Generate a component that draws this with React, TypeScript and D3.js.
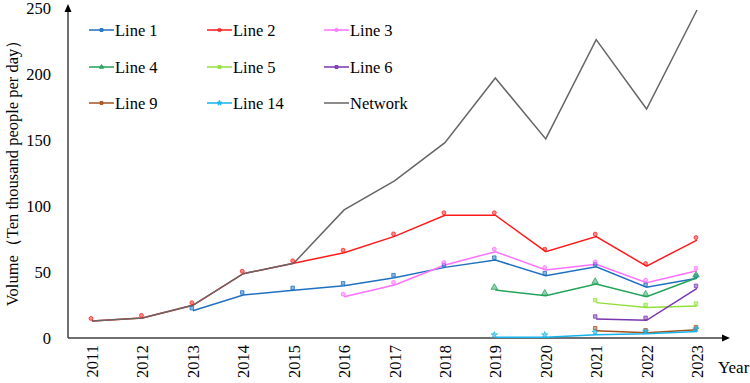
import React, { useEffect, useRef } from 'react';
import * as d3 from 'd3';

// years on the x axis
const years = [2011, 2012, 2013, 2014, 2015, 2016, 2017, 2018, 2019, 2020, 2021, 2022, 2023];
const yTicks = [0, 50, 100, 150, 200, 250];

// values in ten thousand people per day (null = line not open)
const line1 = [null, null, 20.7, 32.6, 36.1, 39.6, 45.7, 53.5, 59, 47.2, 54, 38.4, 45.2];
const line2 = [12.9, 15.2, 24.8, 48.7, 56.6, 64.6, 77, 93, 93, 65.4, 76.8, 54.5, 74.2];
const line3 = [null, null, null, null, null, 31.3, 40.2, 55.3, 65.4, 51.5, 55.8, 41.9, 51];
const line4 = [null, null, null, null, null, null, null, null, 36.4, 32, 40.9, 31.3, 45.7];
const line5 = [null, null, null, null, null, null, null, null, null, null, 26.8, 23.2, 24.2];
const line6 = [null, null, null, null, null, null, null, null, null, null, 14.4, 13.4, 37.6];
const line9 = [null, null, null, null, null, null, null, null, null, null, 5.5, 4, 6.3];
const line14 = [null, null, null, null, null, null, null, null, 0.5, 0.5, 2.5, 3.2, 5];
const network = [12.9, 15.2, 24.8, 48.7, 56.6, 97, 119, 148, 197, 150.8, 226, 173.5, 248.5];

const series = [
  { name: 'Line 1', values: line1, color: '#1f70c1', marker: 'square' },
  { name: 'Line 2', values: line2, color: '#ff1a1a', marker: 'circle' },
  { name: 'Line 3', values: line3, color: '#ff70ff', marker: 'circle' },
  { name: 'Line 4', values: line4, color: '#22a35a', marker: 'triangle' },
  { name: 'Line 5', values: line5, color: '#92e03a', marker: 'square' },
  { name: 'Line 6', values: line6, color: '#7a35b0', marker: 'square' },
  { name: 'Line 9', values: line9, color: '#a4521f', marker: 'square' },
  { name: 'Line 14', values: line14, color: '#14b4ee', marker: 'star' },
  { name: 'Network', values: network, color: '#666666', marker: null },
];

const markerSymbol = (m: string) => {
  if (m === 'square') return d3.symbolSquare;
  if (m === 'circle') return d3.symbolCircle;
  if (m === 'triangle') return d3.symbolTriangle;
  return d3.symbolStar;
};

const App = () => {
  const ref = useRef<SVGSVGElement>(null);

  useEffect(() => {
    const width = 750;
    const height = 383;
    const margin = { top: 8, right: 27, bottom: 45, left: 68 };
    const font = "'Liberation Serif', 'Times New Roman', 'DejaVu Serif', serif";

    const svg = d3.select(ref.current);
    svg.selectAll('*').remove();
    svg.attr('width', width).attr('height', height).attr('font-family', font);

    const x = d3.scalePoint<number>()
      .domain(years)
      .range([margin.left + 24, 697]);
    const y = d3.scaleLinear()
      .domain([0, 250])
      .range([height - margin.bottom, margin.top]);

    // axes
    const gx = svg.append('g').attr('transform', `translate(0,${y(0)})`);
    gx.append('line')
      .attr('x1', margin.left).attr('x2', 722)
      .attr('stroke', '#404040').attr('stroke-width', 1.5);
    gx.append('path')
      .attr('d', 'M722,-3.5 L730,0 L722,3.5 Z')
      .attr('fill', '#000');
    gx.selectAll('text.yr')
      .data(years)
      .enter().append('text')
      .attr('class', 'yr')
      .attr('transform', d => `translate(${x(d)! + 6},7) rotate(-90)`)
      .attr('text-anchor', 'end')
      .attr('font-family', font)
      .attr('font-size', 16.5)
      .text(d => d);

    const gy = svg.append('g').attr('transform', `translate(${margin.left},0)`);
    gy.append('line')
      .attr('y1', y(0)).attr('y2', 12)
      .attr('stroke', '#404040').attr('stroke-width', 1.5);
    gy.append('path')
      .attr('d', 'M-3.5,12 L0,4 L3.5,12 Z')
      .attr('fill', '#000');
    gy.selectAll('text.tk')
      .data(yTicks)
      .enter().append('text')
      .attr('class', 'tk')
      .attr('x', -17)
      .attr('y', d => y(d) + 6)
      .attr('text-anchor', 'end')
      .attr('font-family', font)
      .attr('font-size', 16.5)
      .text(d => d);

    svg.append('text')
      .attr('transform', `translate(18,${169}) rotate(-90)`)
      .attr('text-anchor', 'middle')
      .attr('font-family', font)
      .attr('font-size', 16.5)
      .text('Volume（Ten thousand people per day）');

    svg.append('text')
      .attr('x', 718).attr('y', 373)
      .attr('font-family', font)
      .attr('font-size', 17)
      .text('Year');

    const line = d3.line<number | null>()
      .defined(d => d != null)
      .x((d, i) => x(years[i])!)
      .y(d => y(d as number));

    series.forEach(s => {
      svg.append('path')
        .datum(s.values)
        .attr('fill', 'none')
        .attr('stroke', s.color)
        .attr('stroke-width', 1.5)
        .attr('d', line);
    });

    series.forEach(s => {
      if (!s.marker) return;
      const sym = d3.symbol().type(markerSymbol(s.marker)).size(s.marker === 'triangle' ? 18 : 12);
      svg.append('g')
        .selectAll('path')
        .data(s.values.map((v, i) => ({ v, yr: years[i] })).filter(d => d.v != null))
        .enter().append('path')
        .attr('transform', d => `translate(${x(d.yr)! - 1},${y(d.v as number) - 2.5})`)
        .attr('d', sym)
        .attr('fill', s.color)
        .attr('fill-opacity', 0.5)
        .attr('stroke', s.color)
        .attr('stroke-opacity', 0.75)
        .attr('stroke-width', 1);
    });

    // legend 3 x 3
    const colX = [89, 207, 324];
    const rowY = [30, 67, 103];
    series.forEach((s, i) => {
      const g = svg.append('g')
        .attr('transform', `translate(${colX[i % 3]},${rowY[Math.floor(i / 3)]})`);
      g.append('line')
        .attr('x1', 0).attr('x2', 25)
        .attr('stroke', s.color).attr('stroke-width', 1.5);
      if (s.marker) {
        g.append('path')
          .attr('transform', 'translate(12.5,0)')
          .attr('d', d3.symbol().type(markerSymbol(s.marker)).size(8))
          .attr('fill', s.color)
          .attr('fill-opacity', 0.6)
          .attr('stroke', s.color);
      }
      g.append('text')
        .attr('x', 26).attr('y', 6)
        .attr('font-family', font)
        .attr('font-size', 16.5)
        .text(s.name);
    });
  }, []);

  return <svg ref={ref} style={{ position: 'absolute', left: 0, top: 0 }}></svg>;
};

export default App;
